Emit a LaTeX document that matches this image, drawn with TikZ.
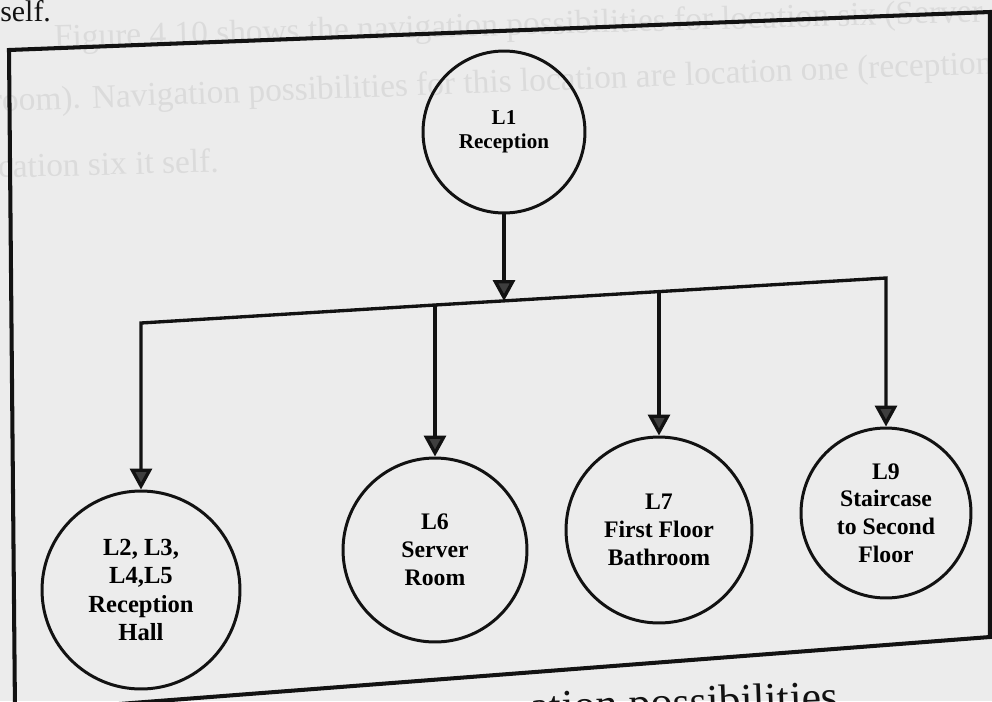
\documentclass[tikz,border=0pt]{standalone}
\usepackage{fontspec}
\setmainfont{Liberation Serif}
\usetikzlibrary{arrows.meta}
\definecolor{paper}{RGB}{236,236,236}
\definecolor{ghost}{RGB}{219,219,219}
\definecolor{ink}{RGB}{18,18,18}
\definecolor{tipfill}{RGB}{62,62,62}

\begin{document}
\begin{tikzpicture}[x=0.02cm,y=-0.02cm,
  place/.style={circle,draw=ink,line width=1.7pt,inner sep=0pt,align=center,
    font=\bfseries\fontsize{13.5}{15.8}\selectfont},
  link/.style={draw=ink,line width=1.9pt,line join=miter},
  flow/.style={link,-{Triangle[width=0.44cm,length=0.42cm,fill=tipfill]}},
  frame/.style={draw=ink,line width=2.3pt,line join=miter},
  ghosttext/.style={text=ghost,font=\fontsize{19}{21}\selectfont,anchor=base west,inner sep=0pt},
  plain/.style={anchor=base west,inner sep=0pt,text=ink}]
\useasboundingbox (0,0) rectangle (992,701);
\clip (0,0) rectangle (992,701);
\fill[paper] (0,0) rectangle (992,701);

% text of the following sheet showing through the paper
\node[ghosttext,rotate=1.6] (g1) at (54,48) {Figure 4.10 shows the navigation possibilities for location six (Server};
\node[ghosttext,rotate=2.2] (g2) at (-9,112) {room). Navigation possibilities for this location are location one (reception};
\node[ghosttext,rotate=1.6] (g3) at (-2,178) {cation six it self.};

% running text above and caption below the figure
\node[plain,font=\fontsize{17}{20}\selectfont] (self) at (0,21) {self.};
\node[plain,font=\fontsize{25}{28}\selectfont,rotate=2] (cap) at (530,722) {ation possibilities};

% figure frame
\draw[frame] (9,50) -- (990,12) -- (990,637) -- (15,712) -- cycle;

% locations
\node[place,minimum size=3.24cm,font=\bfseries\fontsize{12}{13.6}\selectfont] (L1) at (504,132) {L1\\Reception};
\node[place,minimum size=3.96cm,font=\bfseries\fontsize{14}{16}\selectfont] (L2) at (141,590) {L2, L3,\\L4,L5\\Reception\\Hall};
\node[place,minimum size=3.68cm] (L6) at (435,550) {L6\\Server\\Room};
\node[place,minimum size=3.72cm] (L7) at (659,530) {L7\\First Floor\\Bathroom};
\node[place,minimum size=3.40cm] (L9) at (886,513) {L9\\Staircase\\to Second\\Floor};

% junctions on the distribution line
\coordinate (j2) at (141,323);
\coordinate (j6) at (435,305);
\coordinate (j1) at (504,301);
\coordinate (j7) at (659,292);
\coordinate (j9) at (886,278);

% connectors
\draw[flow] (L1.south) -- (j1);
\draw[flow] (j6) -- (j2) -- (L2.north);
\draw[flow] (j6) -- (j9) -- (L9.north);
\draw[flow] (j6) -- (L6.north);
\draw[flow] (j7) -- (L7.north);
\end{tikzpicture}
\end{document}
